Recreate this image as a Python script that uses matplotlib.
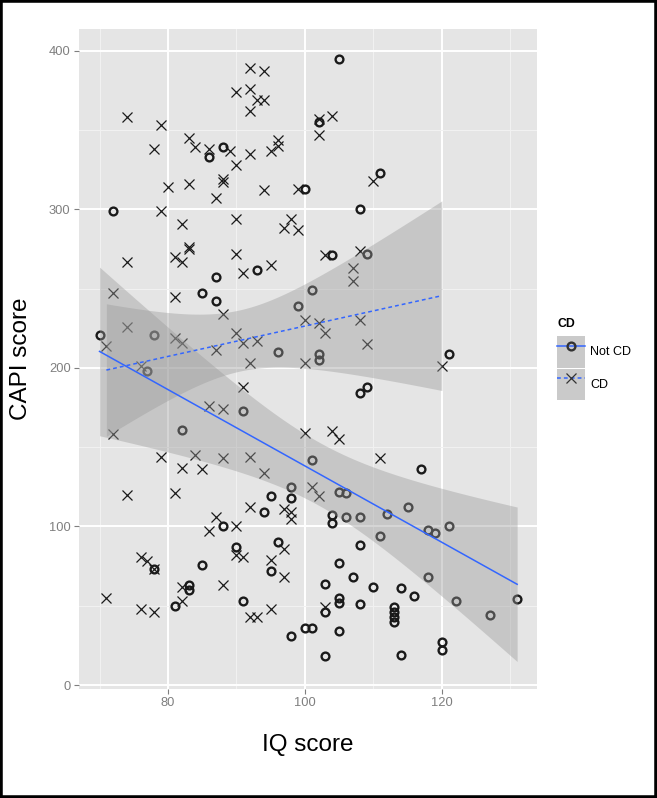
import numpy as np
import matplotlib
matplotlib.use('Agg')
import matplotlib.pyplot as plt
from matplotlib.lines import Line2D
from matplotlib.patches import Patch, Rectangle

# ---- data (IQ score, CAPI score) ----
notcd_iq = [105, 102, 86, 88, 111, 72, 100, 108, 104, 109, 93, 87, 85, 87, 99, 78, 70,
            96, 77, 91, 82, 101, 102, 102, 121, 108, 109, 101, 117, 98, 95, 98, 94, 88,
            90, 96, 78, 85, 95, 83, 83, 81, 91, 98, 105, 106, 104, 104, 106, 108, 112,
            115, 111, 118, 119, 121, 108, 105, 107, 118, 103, 110, 114, 116, 122, 131,
            105, 105, 108, 103, 113, 113, 113, 113, 127, 100, 101, 105, 120, 120, 103, 114]
notcd_capi = [395, 355, 333, 339, 323, 299, 313, 300, 271, 272, 262, 257, 247, 242, 239,
              221, 221, 210, 198, 173, 161, 249, 209, 205, 209, 184, 188, 142, 136, 125,
              119, 118, 109, 100, 87, 90, 73, 76, 72, 63, 60, 50, 53, 31, 122, 121, 107,
              102, 106, 106, 108, 112, 94, 98, 96, 100, 88, 77, 68, 68, 64, 62, 61, 56, 53,
              54, 55, 52, 51, 46, 49, 46, 43, 40, 44, 36, 36, 34, 27, 22, 18, 19]

cd_iq = [74, 79, 78, 83, 84, 86, 89, 90, 92, 90, 92, 94, 92, 93, 94, 92, 96, 96, 95, 80,
         83, 88, 88, 87, 94, 99, 79, 82, 90, 98, 97, 99, 83, 83, 81, 90, 74, 82, 91, 95,
         102, 104, 102, 110, 103, 108, 107, 107, 81, 88, 72, 74, 81, 82, 71, 90, 91, 93,
         87, 92, 76, 91, 86, 88, 72, 79, 84, 88, 92, 82, 85, 94, 100, 102, 103, 108, 109,
         100, 120, 100, 104, 105, 111, 74, 81, 92, 97, 98, 98, 87, 86, 90, 90, 91, 97, 76,
         77, 78, 95, 97, 82, 88, 71, 82, 76, 78, 92, 93, 95, 101, 102, 103]
cd_capi = [358, 353, 338, 345, 339, 338, 337, 328, 335, 374, 389, 387, 376, 369, 369, 362,
           344, 340, 337, 314, 316, 319, 317, 307, 312, 313, 299, 291, 294, 294, 288, 287,
           275, 276, 270, 272, 267, 267, 260, 265, 357, 359, 347, 318, 271, 274, 263, 255,
           245, 234, 247, 226, 219, 216, 214, 222, 216, 217, 211, 203, 201, 188, 176, 174,
           158, 144, 145, 143, 144, 137, 136, 134, 230, 228, 222, 230, 215, 203, 201, 159,
           160, 155, 143, 120, 121, 112, 111, 109, 105, 106, 97, 100, 82, 81, 86, 81, 78,
           73, 79, 68, 62, 63, 55, 53, 48, 46, 43, 43, 48, 125, 119, 49]

groups = ['Not CD', 'CD']

PANEL = '#E5E5E5'
RIBBON = '#999999'
BLUE = '#3366FF'
GREY50 = '#7F7F7F'
FONT = 'Liberation Sans'


def lm_band(x, y, t=1.98, n_grid=80):
    """straight-line fit with 95% confidence band, like geom_smooth(method='lm')"""
    x = np.asarray(x, float); y = np.asarray(y, float)
    b, a = np.polyfit(x, y, 1)
    n = len(x)
    resid = y - (a + b * x)
    s = np.sqrt((resid ** 2).sum() / (n - 2))
    sxx = ((x - x.mean()) ** 2).sum()
    gx = np.linspace(x.min(), x.max(), n_grid)
    fit = a + b * gx
    se = s * np.sqrt(1.0 / n + (gx - x.mean()) ** 2 / sxx)
    return gx, fit, fit - t * se, fit + t * se


fig = plt.figure(figsize=(6.57, 7.98), dpi=100)
ax = fig.add_axes([79 / 657, 1 - 689 / 798, 458 / 657, 660 / 798])
ax.set_facecolor(PANEL)
for s in ax.spines.values():
    s.set_visible(False)

ax.set_xlim(67.0, 133.9)
ax.set_ylim(-2.5, 413.7)
ax.set_xticks([80, 100, 120])
ax.set_yticks([0, 100, 200, 300, 400])
ax.set_xticks([70, 90, 110, 130], minor=True)
ax.set_yticks([50, 150, 250, 350], minor=True)
ax.grid(which='major', color='white', lw=1.4)
ax.grid(which='minor', color='#F2F2F2', lw=0.7)
ax.set_axisbelow(True)
ax.tick_params(which='major', length=3.8, width=0.8, color=GREY50, labelcolor=GREY50,
               labelsize=9.3, pad=2.2)
ax.tick_params(which='minor', length=0)

# points first, smooths on top (ggplot layer order)
ax.plot(notcd_iq, notcd_capi, 'o', ms=5.6, mfc='none', mec='#1a1a1a', mew=1.7, zorder=2)
ax.plot(cd_iq, cd_capi, 'x', ms=7.2, mec='#1a1a1a', mew=0.9, zorder=2)

for xs, ys, ls in [(notcd_iq, notcd_capi, '-'), (cd_iq, cd_capi, (0, (2.5, 2)))]:
    gx, fit, lo, hi = lm_band(xs, ys)
    ax.fill_between(gx, lo, hi, color=RIBBON, alpha=0.4, lw=0, zorder=3)
    ax.plot(gx, fit, color=BLUE, lw=1.1, ls=ls, zorder=4)

ax.set_xlabel('IQ score', fontsize=17.5, family=FONT, labelpad=18)
ax.set_ylabel('CAPI score', fontsize=17.5, family=FONT, labelpad=12)
for lab in ax.get_xticklabels() + ax.get_yticklabels():
    lab.set_family(FONT)

# legend: grey key with line + marker; title drawn separately
key_fill = Patch(facecolor='#CACACA', edgecolor='none')
h1 = (key_fill, Line2D([], [], color=BLUE, lw=1.1, marker='o', ms=5.6, mfc='none',
                       mec='#333333', mew=1.7))
h2 = (key_fill, Line2D([], [], color=BLUE, lw=1.1, ls=(0, (2.5, 2)), marker='x', ms=7.2,
                       mec='#333333', mew=0.9))
leg = fig.legend([h1, h2], groups, loc='upper left',
                 bbox_to_anchor=(557 / 657, 1 - 336 / 798), frameon=False,
                 prop={'family': FONT, 'size': 9},
                 handlelength=2.25, handleheight=3.5, labelspacing=0.08,
                 handletextpad=0.4, borderaxespad=0, borderpad=0, numpoints=1)
fig.text(557 / 657, 1 - 324 / 798, 'CD', fontsize=8.8, fontweight='bold', family=FONT,
         ha='left', va='center')

fig.patches.append(Rectangle((0, 0), 1, 1, transform=fig.transFigure, fill=False,
                             ec='black', lw=4))

fig.savefig('out.png', dpi=100)
